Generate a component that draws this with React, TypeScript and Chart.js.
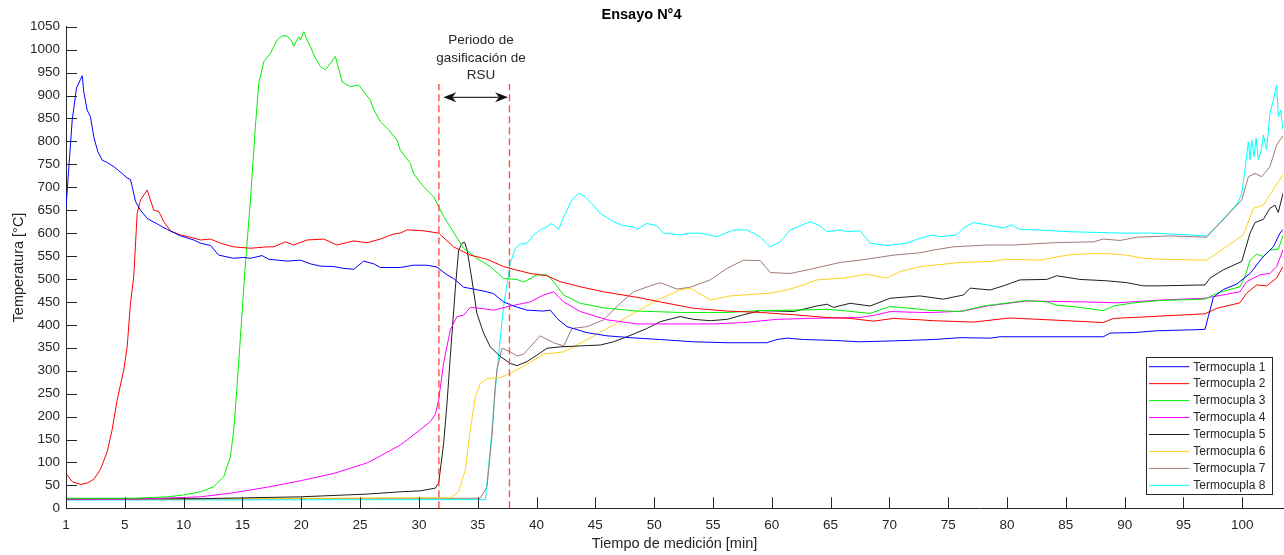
import { useEffect, useRef } from "react";
import { Chart, registerables } from "chart.js";

Chart.register(...registerables);

// ---------- labels ----------
const chartTitle = "Ensayo N°4";
const xAxisTitle = "Tiempo de medición [min]";
const yAxisTitle = "Temperatura [°C]";
const xTickValues = [0, 5, 10, 15, 20, 25, 30, 35, 40, 45, 50, 55, 60, 65, 70, 75, 80, 85, 90, 95, 100];
const xTickLabels = ["1", "5", "10", "15", "20", "25", "30", "35", "40", "45", "50", "55", "60", "65", "70", "75", "80", "85", "90", "95", "100"];
const seriesLabels = ["Termocupla 1", "Termocupla 2", "Termocupla 3", "Termocupla 4", "Termocupla 5", "Termocupla 6", "Termocupla 7", "Termocupla 8"];
const seriesColors = ["#0000ff", "#ff0000", "#00f000", "#ff00ff", "#1e1e1e", "#ffd21f", "#a07a72", "#00ffff"];

// ---------- data (time [min], temperature [°C]) ----------
const t1 = [0, 0.53, 0.89, 1.23, 1.38, 1.51, 1.8, 2.08, 2.36, 2.7, 3.08, 3.5, 4.06, 4.49, 4.91, 5.2, 5.48, 5.63, 5.91, 6.33, 6.9, 7.75, 8.6, 9.73, 10.86, 11.43, 12.28, 12.98, 14.26, 15.11, 15.68, 16.67, 17.23, 18.8, 19.93, 20.78, 21.63, 22.76, 23.61, 24.46, 25.31, 26.16, 26.72, 28.42, 29.55, 30.69, 31.54, 32.39, 32.95, 33.8, 34.65, 35.79, 36.35, 37.2, 38.05, 39.19, 40.6, 41.17, 41.74, 42.59, 44.29, 45.99, 48.54, 50.52, 53.35, 56.19, 59.59, 60.44, 61.29, 62.7, 65.24, 67.51, 70.34, 72.6, 73.74, 76.01, 78.56, 79.41, 83.66, 88.19, 88.76, 90.74, 92.73, 95.5, 96.83, 97.11, 97.54, 98.39, 99.53, 100.66, 101.79, 102.64, 103.2, 103.46];
const T1 = [657, 847, 916, 935, 943, 908, 868, 854, 810, 778, 759, 754, 745, 736, 727, 720, 717, 701, 669, 650, 632, 620, 608, 594, 585, 578, 573, 552, 545, 547, 545, 551, 543, 539, 541, 533, 528, 527, 523, 521, 539, 533, 525, 525, 530, 530, 526, 509, 501, 482, 478, 472, 468, 450, 441, 432, 430, 432, 414, 396, 383, 376, 371, 368, 363, 361, 361, 368, 371, 368, 366, 363, 365, 367, 368, 372, 371, 374, 374, 374, 382, 383, 387, 389, 390, 418, 460, 477, 489, 512, 549, 570, 600, 608];

const t2 = [0.1, 0.53, 1.23, 1.8, 2.36, 2.93, 3.5, 3.92, 4.35, 4.91, 5.2, 5.48, 5.76, 6.05, 6.33, 6.9, 7.46, 7.89, 8.31, 8.88, 9.73, 10.58, 11.43, 12.28, 13.13, 14.26, 15.68, 17.1, 17.66, 18.65, 19.36, 20.49, 21.91, 23.04, 24.46, 25.59, 26.72, 27.85, 28.42, 29.0, 30.4, 31.68, 32.95, 34.37, 35.79, 37.2, 38.05, 39.47, 40.89, 42.02, 43.72, 45.7, 48.54, 50.52, 53.35, 56.19, 59.02, 61.86, 64.7, 66.66, 68.65, 70.34, 72.6, 73.74, 77.14, 80.26, 85.08, 88.19, 89.04, 90.74, 93.0, 96.83, 97.83, 99.8, 100.37, 101.22, 102.07, 102.92, 103.46];
const T2 = [73, 58, 52, 55, 63, 85, 123, 171, 236, 302, 352, 447, 505, 643, 672, 694, 650, 647, 625, 605, 596, 591, 585, 587, 578, 570, 567, 570, 570, 581, 574, 585, 587, 574, 583, 579, 587, 598, 600, 607, 605, 600, 570, 552, 543, 527, 521, 512, 507, 494, 483, 472, 460, 450, 436, 430, 427, 422, 416, 414, 408, 414, 411, 409, 406, 415, 409, 405, 414, 416, 419, 424, 436, 448, 469, 487, 485, 502, 527];

const t3 = [0, 5.76, 8.6, 10.01, 11.43, 12.56, 13.41, 13.98, 14.26, 14.54, 14.83, 15.2, 15.68, 16.1, 16.39, 16.82, 17.38, 17.95, 18.37, 18.8, 19.22, 19.36, 19.78, 19.93, 20.21, 20.49, 20.78, 21.2, 21.63, 22.05, 22.48, 22.9, 23.18, 23.47, 24.18, 24.88, 25.31, 25.88, 26.16, 26.72, 27.43, 28.14, 28.42, 29.27, 29.55, 30.4, 31.26, 32.11, 32.82, 33.8, 34.93, 36.07, 37.2, 38.34, 38.9, 40.04, 40.89, 41.45, 42.31, 43.72, 45.7, 48.54, 52.22, 56.19, 59.02, 61.86, 64.7, 66.38, 68.36, 70.06, 72.6, 73.18, 76.01, 77.99, 81.67, 83.37, 84.22, 86.2, 88.19, 89.04, 90.74, 93.0, 96.83, 97.83, 99.8, 100.23, 100.66, 101.22, 101.79, 102.35, 103.06, 103.46];
const T3 = [22, 22, 25, 29, 36, 47, 69, 113, 171, 265, 374, 515, 672, 832, 927, 974, 992, 1021, 1030, 1030, 1017, 1007, 1028, 1021, 1039, 1021, 1007, 981, 963, 956, 970, 985, 959, 930, 919, 923, 908, 890, 869, 843, 825, 803, 781, 752, 730, 701, 679, 636, 607, 567, 545, 527, 501, 499, 493, 509, 509, 494, 465, 447, 437, 430, 427, 427, 431, 432, 434, 430, 425, 440, 434, 432, 429, 441, 453, 450, 443, 438, 431, 441, 448, 453, 456, 469, 483, 505, 541, 554, 549, 563, 565, 595];

const t4 = [0, 5.76, 11.43, 14.26, 17.1, 19.93, 22.76, 25.6, 26.72, 28.42, 29.0, 30.97, 31.4, 31.68, 32.1, 32.67, 33.24, 33.8, 34.37, 35.22, 36.35, 37.77, 39.47, 40.6, 41.45, 42.31, 43.72, 45.99, 48.54, 52.22, 55.06, 57.6, 60.44, 63.28, 67.51, 68.93, 70.06, 72.6, 73.74, 76.3, 78.28, 81.67, 86.48, 89.32, 93.0, 96.83, 99.8, 100.37, 101.5, 102.35, 102.92, 103.46];
const T4 = [20, 20, 25, 34, 46, 60, 76, 99, 114, 138, 149, 189, 205, 236, 316, 389, 418, 421, 438, 436, 432, 441, 450, 465, 472, 450, 429, 411, 402, 402, 402, 405, 412, 414, 416, 422, 429, 427, 427, 430, 441, 452, 450, 448, 454, 458, 472, 494, 509, 512, 527, 563];

const t5 = [0, 11.43, 19.93, 25.6, 28.42, 30.12, 31.4, 31.68, 32.1, 32.39, 32.67, 33.1, 33.38, 33.67, 33.89, 34.1, 34.51, 34.93, 35.5, 36.07, 36.92, 37.77, 38.34, 39.19, 40.04, 40.89, 42.02, 43.72, 45.42, 46.55, 47.69, 49.38, 50.52, 52.22, 53.35, 54.77, 56.19, 57.6, 59.02, 60.44, 61.86, 63.83, 64.7, 65.24, 66.66, 68.36, 70.06, 72.6, 74.58, 76.3, 76.86, 78.56, 79.69, 81.1, 83.37, 84.22, 86.2, 88.47, 90.17, 91.59, 93.0, 96.83, 97.26, 98.39, 99.95, 100.66, 101.08, 101.79, 102.35, 102.78, 103.06, 103.46];
const T5 = [20, 21, 25, 31, 36, 38, 44, 55, 140, 229, 331, 480, 563, 578, 580, 563, 498, 425, 382, 352, 331, 316, 311, 320, 334, 349, 352, 354, 356, 363, 374, 392, 407, 418, 412, 409, 412, 422, 431, 430, 429, 441, 445, 438, 447, 441, 458, 463, 456, 465, 480, 476, 485, 498, 499, 507, 499, 496, 492, 485, 485, 487, 502, 520, 538, 600, 623, 630, 654, 661, 645, 687];

const t6 = [0, 32.67, 33.38, 33.95, 34.37, 34.8, 35.22, 35.79, 36.92, 37.77, 38.9, 39.75, 40.6, 42.31, 43.44, 44.86, 46.27, 47.97, 49.95, 52.22, 53.07, 54.77, 56.46, 57.6, 59.87, 61.29, 62.7, 63.83, 66.1, 68.08, 69.78, 70.91, 72.6, 76.01, 78.56, 79.98, 82.8, 85.08, 86.77, 88.76, 90.17, 91.59, 93.0, 96.97, 100.09, 100.94, 101.79, 102.78, 103.46];
const T6 = [20, 23, 36, 84, 171, 243, 272, 283, 285, 294, 310, 323, 336, 341, 356, 376, 396, 421, 450, 476, 480, 454, 463, 465, 469, 476, 487, 498, 502, 510, 502, 516, 527, 536, 538, 543, 541, 552, 555, 555, 552, 545, 543, 541, 596, 654, 661, 701, 727];

const t7 = [0, 35.22, 35.79, 36.21, 36.49, 36.64, 37.06, 37.77, 38.34, 38.9, 40.32, 41.45, 42.31, 43.01, 44.29, 45.7, 47.12, 48.25, 49.67, 50.52, 51.94, 53.07, 54.77, 56.19, 57.6, 59.02, 59.87, 61.57, 63.26, 65.81, 67.51, 70.34, 72.6, 73.74, 75.44, 78.28, 80.54, 83.94, 87.34, 88.19, 89.61, 91.03, 93.86, 96.97, 99.95, 100.52, 101.08, 101.65, 102.35, 102.92, 103.2, 103.46];
const T7 = [20, 22, 47, 156, 265, 302, 349, 341, 332, 336, 376, 361, 354, 392, 396, 411, 447, 472, 485, 492, 478, 482, 498, 523, 541, 540, 514, 512, 521, 536, 541, 552, 557, 563, 570, 574, 574, 579, 581, 587, 584, 591, 594, 591, 672, 723, 730, 723, 745, 792, 803, 812];

const t8 = [0, 35.65, 36.07, 36.64, 37.2, 37.77, 38.2, 38.62, 39.19, 39.75, 40.32, 40.89, 41.3, 41.87, 42.45, 43.01, 43.58, 44.15, 44.71, 45.42, 46.55, 47.4, 48.25, 48.54, 49.38, 50.23, 50.8, 52.22, 53.07, 53.92, 55.34, 56.75, 57.88, 59.02, 59.87, 60.72, 61.57, 63.26, 64.1, 64.68, 65.81, 66.38, 67.51, 68.36, 69.78, 71.48, 72.6, 73.74, 74.31, 75.73, 76.29, 77.14, 78.28, 79.69, 80.41, 81.11, 82.53, 85.36, 89.61, 92.44, 96.97, 97.8, 98.7, 99.24, 99.6, 99.95, 100.23, 100.51, 100.66, 100.8, 101.0, 101.17, 101.36, 101.65, 101.79, 102.07, 102.35, 102.64, 102.92, 103.06, 103.26, 103.46];
const T8 = [18, 19, 130, 300, 440, 534, 567, 576, 578, 596, 607, 614, 621, 608, 643, 672, 687, 679, 664, 643, 625, 616, 614, 608, 621, 616, 600, 596, 600, 600, 592, 607, 607, 592, 570, 581, 607, 625, 616, 603, 607, 603, 605, 578, 573, 578, 589, 596, 592, 596, 611, 623, 618, 611, 618, 608, 607, 603, 600, 600, 594, 615, 640, 655, 665, 687, 738, 799, 760, 803, 767, 807, 760, 785, 814, 781, 861, 890, 923, 854, 868, 825];

const seriesTimes = [t1, t2, t3, t4, t5, t6, t7, t8];
const seriesTemps = [T1, T2, T3, T4, T5, T6, T7, T8];

// ---------- annotation (data units) ----------
const gasStart = 31.7;
const gasEnd = 37.7;
const dashedTop = 925;
const arrowY = 896;
const arrowFrom = 32.08;
const arrowTo = 37.58;
const noteLines = ["Periodo de", "gasificación de", "RSU"];
const noteX = 35.28;
const noteYs = [1021, 981, 945];

const FONT = "'Liberation Sans', Arial, Helvetica, sans-serif";
const AXIS_COLOR = "#262626";

const overlayPlugin = {
  id: "overlay",
  afterDatasetsDraw(chart: any) {
    const { ctx, chartArea: ca, scales } = chart;
    const x = scales.x;
    const y = scales.y;
    ctx.save();

    // inward tick marks
    ctx.strokeStyle = AXIS_COLOR;
    ctx.lineWidth = 1;
    ctx.beginPath();
    for (const v of xTickValues) {
      const px = Math.round(x.getPixelForValue(v)) + 0.5;
      ctx.moveTo(px, ca.bottom);
      ctx.lineTo(px, ca.bottom - 11);
    }
    for (const t of y.ticks) {
      const py = Math.round(y.getPixelForValue(t.value)) + 0.5;
      ctx.moveTo(ca.left, py);
      ctx.lineTo(ca.left + 11, py);
    }
    ctx.stroke();

    // dashed red lines
    ctx.strokeStyle = "rgba(255,60,60,0.9)";
    ctx.lineWidth = 1.4;
    ctx.setLineDash([7, 4]);
    ctx.beginPath();
    for (const v of [gasStart, gasEnd]) {
      const px = x.getPixelForValue(v);
      ctx.moveTo(px, y.getPixelForValue(0));
      ctx.lineTo(px, y.getPixelForValue(dashedTop));
    }
    ctx.stroke();
    ctx.setLineDash([]);

    // double arrow
    const ay = y.getPixelForValue(arrowY);
    const ax1 = x.getPixelForValue(arrowFrom);
    const ax2 = x.getPixelForValue(arrowTo);
    ctx.strokeStyle = "#333";
    ctx.fillStyle = "#111";
    ctx.lineWidth = 1.3;
    ctx.beginPath();
    ctx.moveTo(ax1 + 6, ay);
    ctx.lineTo(ax2 - 6, ay);
    ctx.stroke();
    const head = (tip: number, dir: number) => {
      ctx.beginPath();
      ctx.moveTo(tip, ay);
      ctx.lineTo(tip - dir * 13, ay - 5);
      ctx.lineTo(tip - dir * 9, ay);
      ctx.lineTo(tip - dir * 13, ay + 5);
      ctx.closePath();
      ctx.fill();
    };
    head(ax1, -1);
    head(ax2, 1);

    // note text
    ctx.fillStyle = AXIS_COLOR;
    ctx.font = `13.5px ${FONT}`;
    ctx.textAlign = "center";
    ctx.textBaseline = "middle";
    noteLines.forEach((line, i) => {
      ctx.fillText(line, x.getPixelForValue(noteX), y.getPixelForValue(noteYs[i]));
    });

    // legend box (bottom-right inside axes)
    const bw = 126;
    const bh = 137.3;
    const bx = ca.right - 11.3 - bw;
    const by = ca.bottom - 14.3 - bh;
    ctx.fillStyle = "#ffffff";
    ctx.fillRect(bx, by, bw, bh);
    ctx.strokeStyle = AXIS_COLOR;
    ctx.lineWidth = 1;
    ctx.strokeRect(Math.round(bx) + 0.5, Math.round(by) + 0.5, Math.round(bw), Math.round(bh));
    ctx.font = `12px ${FONT}`;
    ctx.textAlign = "left";
    ctx.textBaseline = "middle";
    chart.data.datasets.forEach((ds: any, i: number) => {
      const ry = by + 10 + i * 16.95;
      ctx.strokeStyle = ds.borderColor;
      ctx.lineWidth = 1;
      ctx.beginPath();
      ctx.moveTo(bx + 3.3, ry);
      ctx.lineTo(bx + 43.6, ry);
      ctx.stroke();
      ctx.fillStyle = AXIS_COLOR;
      ctx.fillText(ds.label, bx + 47.6, ry + 0.5);
    });

    ctx.restore();
  },
};

export default function App() {
  const canvasRef = useRef<HTMLCanvasElement | null>(null);

  useEffect(() => {
    document.body.style.margin = "0";
    const canvas = canvasRef.current;
    if (!canvas) return;
    Chart.defaults.font.family = FONT;
    const datasets = seriesLabels.map((label, i) => ({
      label,
      data: seriesTimes[i].map((t, k) => ({ x: t, y: seriesTemps[i][k] })),
      borderColor: seriesColors[i],
      backgroundColor: seriesColors[i],
      borderWidth: 1,
      pointRadius: 0,
      tension: 0,
      fill: false,
    }));
    const chart = new Chart(canvas, {
      type: "line",
      data: { datasets },
      plugins: [overlayPlugin],
      options: {
        animation: false,
        responsive: true,
        maintainAspectRatio: false,
        layout: { padding: { left: 0, right: 1, top: 0, bottom: 0 } },
        plugins: {
          legend: { display: false },
          tooltip: { enabled: false },
          title: {
            display: true,
            text: chartTitle,
            color: "#000",
            font: { size: 14.5, weight: "bold", family: FONT },
            padding: { top: 6, bottom: 3.3 },
          },
        },
        scales: {
          x: {
            type: "linear",
            min: 0,
            max: 103.46,
            afterBuildTicks: (scale: any) => {
              scale.ticks = xTickValues.map((value) => ({ value }));
            },
            afterFit: (scale: any) => {
              scale.height = 46.7;
            },
            grid: { display: false, drawTicks: false },
            border: { display: true, color: AXIS_COLOR, width: 1 },
            ticks: {
              autoSkip: false,
              maxRotation: 0,
              padding: 9,
              color: AXIS_COLOR,
              font: { size: 13.5, family: FONT },
              callback: (_v: any, i: number) => xTickLabels[i],
            },
            title: {
              display: true,
              text: xAxisTitle,
              color: AXIS_COLOR,
              font: { size: 14.5, family: FONT },
              padding: { top: 0, bottom: 2 },
            },
          },
          y: {
            type: "linear",
            min: 0,
            max: 1050,
            afterFit: (scale: any) => {
              scale.width = 66;
            },
            grid: { display: false, drawTicks: false },
            border: { display: true, color: AXIS_COLOR, width: 1 },
            ticks: {
              stepSize: 50,
              autoSkip: false,
              padding: 6,
              color: AXIS_COLOR,
              font: { size: 13.5, family: FONT },
              callback: (v: any) => String(v),
            },
            title: {
              display: true,
              text: yAxisTitle,
              color: AXIS_COLOR,
              font: { size: 14.5, family: FONT },
              padding: { top: 10, bottom: 0 },
            },
          },
        },
      },
    });
    return () => chart.destroy();
  }, []);

  return (
    <div style={{ position: "relative", width: "1284px", height: "555px" }}>
      <canvas ref={canvasRef} />
    </div>
  );
}
